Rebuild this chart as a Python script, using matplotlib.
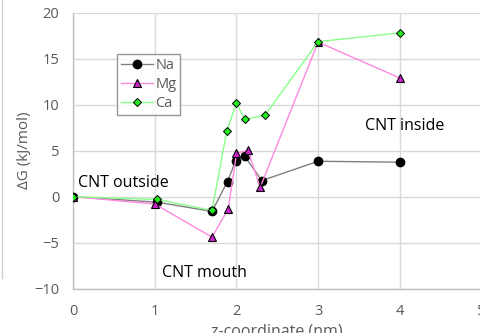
import matplotlib.pyplot as plt
from matplotlib.lines import Line2D

plt.rcParams['font.family'] = ['Open Sans', 'DejaVu Sans']

# z-coordinate (nm) and free energy (kJ/mol) per ion
na_z = [0, 1.03, 1.7, 1.89, 1.99, 2.1, 2.31, 3, 4]
na_g = [0, -0.6, -1.6, 1.65, 3.9, 4.4, 1.75, 3.85, 3.75]

mg_z = [0, 1.0, 1.7, 1.9, 2.0, 2.14, 2.29, 3, 4]
mg_g = [0, -0.8, -4.4, -1.3, 4.7, 5.05, 1.0, 16.8, 12.9]

ca_z = [0, 1.03, 1.7, 1.88, 2.0, 2.1, 2.35, 3, 4]
ca_g = [0, -0.3, -1.5, 7.1, 10.2, 8.4, 8.85, 16.85, 17.8]

x_ticks = [0, 1, 2, 3, 4, 5]
y_ticks = [-10, -5, 0, 5, 10, 15, 20]

fig = plt.figure(figsize=(4.8, 3.33), dpi=100)
ax = fig.add_axes([0.1527, 0.133, 0.85, 0.829])

ax.plot(na_z, na_g, color='#808080', lw=1, marker='o', ms=6,
        mfc='black', mec='black', label='Na', zorder=3)
ax.plot(mg_z, mg_g, color='#ff88e0', lw=1, marker='^', ms=6,
        mfc='#cc22cc', mec='black', mew=0.8, label='Mg', zorder=3)
ax.plot(ca_z, ca_g, color='#88ff88', lw=1, marker='D', ms=4.2,
        mfc='#22ee22', mec='black', mew=0.7, label='Ca', zorder=4)

ax.set_xlim(0, 5)
ax.set_ylim(-10, 20)
ax.set_xticks(x_ticks)
ax.set_yticks(y_ticks)
ax.grid(True, color='#d9d9d9', lw=1)
ax.set_axisbelow(True)
ax.tick_params(axis='x', length=0, labelsize=10.5, colors='#595959', pad=11)
ax.tick_params(axis='y', length=0, labelsize=10.5, colors='#595959', pad=10)
for s in ['top', 'right']:
    ax.spines[s].set_visible(False)
for s in ['left', 'bottom']:
    ax.spines[s].set_color('#bfbfbf')
    ax.spines[s].set_linewidth(1)

ax.set_xlabel('z-coordinate (nm)', fontsize=11.5, color='#595959')
ax.xaxis.set_label_coords(0.5, -0.125)
ax.set_ylabel('ΔG (kJ/mol)', fontsize=11, color='#595959')
ax.yaxis.set_label_coords(-0.1, 0.5)

ax.text(0.06, 1.1, 'CNT outside', fontsize=11.5, color='black')
ax.text(3.58, 7.25, 'CNT inside', fontsize=11.5, color='black')
ax.text(1.086, -8.73, 'CNT mouth', fontsize=11.5, color='black')

leg = ax.legend(loc='upper left', bbox_to_anchor=(0.107, 0.85), fontsize=10.5,
                frameon=True, fancybox=False, edgecolor='#7f7f7f',
                handlelength=2.2, borderpad=0.25, labelspacing=0.3,
                handletextpad=0.2, borderaxespad=0)
leg.get_frame().set_linewidth(1)
for t in leg.get_texts():
    t.set_color('#595959')

# faint border remnant on the far left
fig.add_artist(Line2D([2 / 480, 2 / 480], [1, 1 - 278 / 333],
                      color='#d0d0d0', lw=1))

fig.savefig('out.png', dpi=100)
